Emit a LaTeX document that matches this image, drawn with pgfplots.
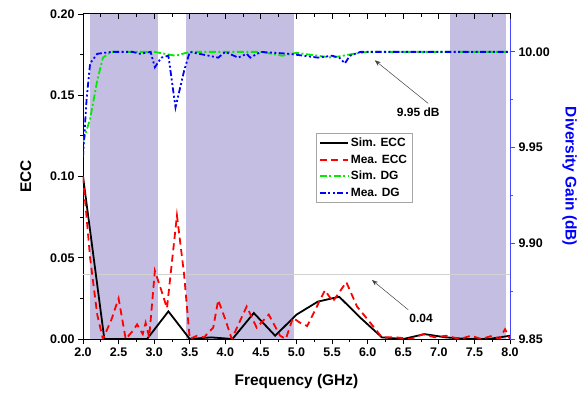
\documentclass[border=0pt]{standalone}
\usepackage{pgfplots}
\pgfplotsset{compat=1.18}
\usepackage{fontspec}
\setmainfont{Liberation Sans}
\usetikzlibrary{arrows.meta}
\definecolor{shade}{RGB}{196,190,226}
\definecolor{axblue}{RGB}{70,70,255}
\definecolor{dgreen}{RGB}{0,235,0}
\definecolor{mred}{RGB}{255,0,0}
\definecolor{mblue}{RGB}{0,0,255}
\begin{document}
\begin{tikzpicture}
\useasboundingbox (-83bp,-59bp) rectangle (503bp,339bp);
\begin{axis}[
  scale only axis, width=427bp, height=325bp,
  xmin=2, xmax=8, ymin=0, ymax=0.2,
  axis line style={line width=1pt},
  xtick={2,2.5,3,3.5,4,4.5,5,5.5,6,6.5,7,7.5,8},
  ytick={0,0.05,0.1,0.15,0.2},
  minor x tick num=1, minor y tick num=1,
  xtick pos=bottom, ytick pos=left,
  tick align=outside,
  major tick length=5bp, minor tick length=3bp,
  every tick/.style={black, line width=0.9pt},
  /pgf/number format/assume math mode=true,
  xticklabel style={font=\bfseries\fontsize{12.5}{14}\selectfont, /pgf/number format/.cd, fixed, fixed zerofill, precision=1},
  yticklabel style={font=\bfseries\fontsize{12.5}{14}\selectfont, /pgf/number format/.cd, fixed, fixed zerofill, precision=2},
  scaled y ticks=false,
  xlabel={\bfseries Frequency (GHz)},
  ylabel={\bfseries ECC},
  label style={font=\bfseries\fontsize{15.5}{17}\selectfont},
  xlabel style={yshift=-11bp},
  ylabel style={yshift=12bp},
]
\addplot[fill=shade, draw=none] coordinates {(2.1,0)(2.1,0.2)(3.05,0.2)(3.05,0)} -- cycle;
\addplot[fill=shade, draw=none] coordinates {(3.45,0)(3.45,0.2)(4.97,0.2)(4.97,0)} -- cycle;
\addplot[fill=shade, draw=none] coordinates {(7.15,0)(7.15,0.2)(7.95,0.2)(7.95,0)} -- cycle;
\addplot[gray!35, line width=0.6pt] coordinates {(2,0.04)(8,0.04)};
\addplot[color=black, line width=1.8pt] coordinates {
(2.0,0.100)(2.3,0.000)(2.6,0.000)(2.9,0.000)(3.2,0.017)(3.5,0.000)(3.8,0.001)(4.1,0.000)(4.4,0.016)(4.7,0.002)(5.0,0.015)(5.3,0.023)(5.6,0.026)(5.9,0.013)(6.2,0.001)(6.5,0.000)(6.8,0.003)(7.1,0.001)(7.4,0.000)(7.7,0.000)(8.0,0.002)};
\addplot[color=mred, line width=1.8pt, dash pattern=on 7pt off 4.5pt] coordinates {
(2.0,0.100)(2.1,0.05)(2.2,0.015)(2.28,0.000)(2.4,0.012)(2.5,0.025)(2.6,0.000)(2.7,0.005)(2.76,0.009)(2.84,0.003)(2.88,0.010)(2.93,0.001)(3.01,0.042)(3.1,0.03)(3.18,0.019)(3.32,0.076)(3.42,0.04)(3.5,0.000)(3.6,0.002)(3.7,0.001)(3.83,0.007)(3.9,0.024)(4.0,0.012)(4.09,0.000)(4.3,0.020)(4.44,0.007)(4.61,0.015)(4.77,0.002)(4.85,0.000)(4.95,0.013)(5.05,0.010)(5.15,0.008)(5.4,0.030)(5.51,0.023)(5.7,0.035)(5.85,0.020)(6.0,0.012)(6.2,0.001)(6.4,0.001)(6.6,0.000)(6.78,0.003)(6.95,0.001)(7.1,0.002)(7.3,0.000)(7.45,0.002)(7.6,0.000)(7.75,0.002)(7.85,0.000)(7.93,0.006)(8.0,0.000)};
\draw[gray!50!black, line width=0.5pt, -{Stealth[length=6bp,width=4.5bp]}] (axis cs:6.57,0.018) -- (axis cs:6.06,0.0363);
\node[font=\bfseries\fontsize{12}{14}\selectfont] at (axis cs:6.75,0.0128) {0.04};
\draw[gray!50!black, line width=0.5pt, -{Stealth[length=6bp,width=4.5bp]}] (axis cs:6.85,0.145) -- (axis cs:6.10,0.1715);
\node[font=\bfseries\fontsize{12}{14}\selectfont] at (axis cs:6.71,0.1395) {9.95 dB};
\end{axis}
\begin{axis}[
  scale only axis, width=427bp, height=325bp,
  xmin=2, xmax=8, ymin=9.85, ymax=10.0198,
  hide x axis,
  axis y line*=right,
  y axis line style={draw=axblue, line width=1pt},
  ytick={9.85,9.9,9.95,10},
  minor y tick num=1,
  tick align=outside,
  major tick length=5bp, minor tick length=3bp,
  every tick/.style={axblue, line width=0.9pt},
  /pgf/number format/assume math mode=true,
  yticklabel style={font=\bfseries\fontsize{12.5}{14}\selectfont, /pgf/number format/.cd, fixed, fixed zerofill, precision=2},
  ylabel={\bfseries Diversity Gain (dB)},
  ylabel style={font=\bfseries\fontsize{15.5}{17}\selectfont, text=blue, rotate=180, yshift=6bp},
  legend style={at={(0.545,0.634)}, anchor=north west, draw=gray!70, line width=0.7pt, fill=white,
    font=\bfseries\fontsize{12}{14}\selectfont, row sep=2.5bp, inner sep=3bp},
  legend cell align=left,
  legend image code/.code={\draw[#1] (0bp,0bp) -- (28bp,0bp);},
]
\addlegendimage{color=black, line width=1.8pt}
\addlegendentry{Sim. ECC}
\addlegendimage{color=mred, line width=1.8pt, dash pattern=on 7pt off 4.5pt}
\addlegendentry{Mea. ECC}
\addlegendimage{color=dgreen, line width=1.8pt, dash pattern=on 7pt off 2.5pt on 2pt off 2.5pt}
\addlegendentry{Sim. DG}
\addlegendimage{color=mblue, line width=1.8pt, dash pattern=on 6pt off 2.5pt on 2pt off 2.5pt on 2pt off 2.5pt}
\addlegendentry{Mea. DG}
\addplot[forget plot, color=dgreen, line width=1.8pt, dash pattern=on 7pt off 2.5pt on 2pt off 2.5pt] coordinates {
(2.0,9.953)(2.1,9.965)(2.2,9.985)(2.28,9.997)(2.4,10.0)(3.0,10.0)(3.3,9.998)(3.5,10.0)(4.5,10.0)(4.8,9.998)(5.0,9.9995)(5.3,9.998)(5.5,9.997)(5.8,9.999)(6.0,10.0)(8.0,10.0)};
\addplot[forget plot, color=mblue, line width=1.8pt, dash pattern=on 6pt off 2.5pt on 2pt off 2.5pt on 2pt off 2.5pt] coordinates {
(2.0,9.945)(2.05,9.975)(2.1,9.994)(2.2,9.999)(2.4,10.0)(2.7,10.0)(2.8,9.999)(2.95,10.0)(3.01,9.992)(3.1,9.997)(3.2,9.998)(3.3,9.971)(3.42,9.99)(3.5,10.0)(3.9,9.997)(4.0,10.0)(4.18,9.997)(4.3,9.999)(4.35,9.997)(4.5,10.0)(4.9,9.999)(5.1,9.998)(5.3,9.997)(5.5,9.998)(5.6,9.997)(5.68,9.994)(5.75,9.998)(5.9,10.0)(8.0,10.0)};
\end{axis}
\begin{axis}[
  scale only axis, width=427bp, height=325bp,
  xmin=2, xmax=8, ymin=0, ymax=1,
  hide y axis,
  axis x line*=top,
  axis line style={line width=1pt},
  xtick={2,2.5,3,3.5,4,4.5,5,5.5,6,6.5,7,7.5,8},
  minor x tick num=1,
  tick align=inside,
  major tick length=5bp, minor tick length=3bp,
  every tick/.style={black, line width=0.9pt},
  xticklabels={},
]
\end{axis}
\end{tikzpicture}
\end{document}
